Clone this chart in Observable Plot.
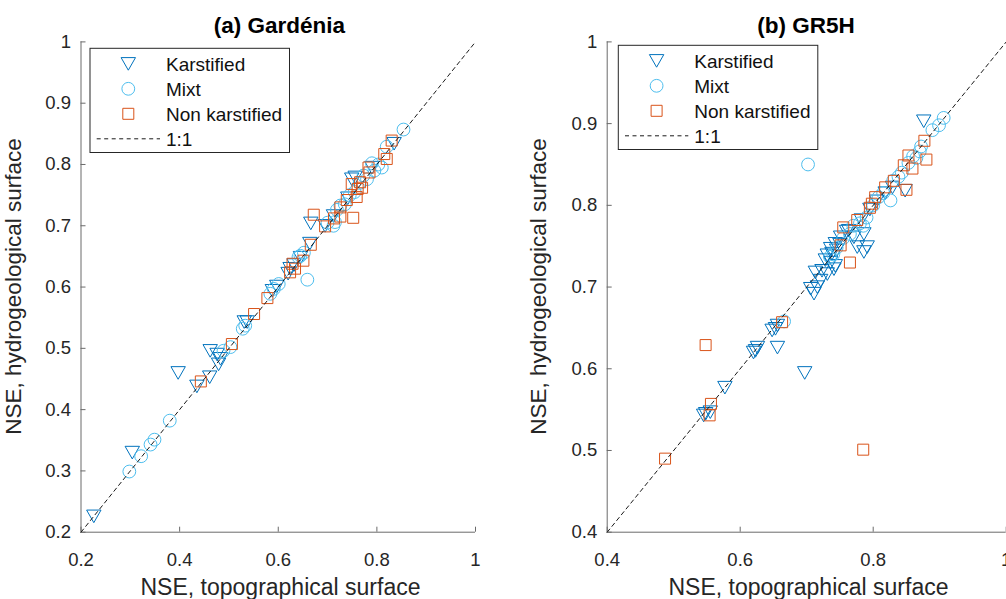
<!DOCTYPE html>
<html><head><meta charset="utf-8">
<script src="https://cdn.jsdelivr.net/npm/d3@7"></script>
<script src="https://cdn.jsdelivr.net/npm/@observablehq/plot@0.6"></script>
<style>
html,body{margin:0;padding:0;background:#fff;overflow:hidden}
#wrap{position:relative;width:1006px;height:599px;font-family:"Liberation Sans",Arial,sans-serif}
.panel{position:absolute;top:0}
#ov{position:absolute;left:0;top:0;pointer-events:none}
</style></head><body><div id="wrap"></div>
<script>
// ---------- data ----------
const categories = ["Karstified", "Mixt", "Non karstified"];
const titles = ["(a) Gardénia", "(b) GR5H"];
const xLabel = "NSE, topographical surface";
const yLabel = "NSE, hydrogeological surface";
const oneToOneLabel = "1:1";

// Gardénia: [NSE topographical, NSE hydrogeological]
const gardeniaKarstified = [
  [0.226,0.226],[0.304,0.330],[0.397,0.460],[0.435,0.438],[0.461,0.453],[0.462,0.496],
  [0.476,0.490],[0.483,0.483],[0.479,0.474],[0.531,0.543],[0.537,0.543],[0.588,0.594],
  [0.597,0.601],[0.620,0.622],[0.624,0.630],[0.632,0.636],[0.645,0.648],[0.664,0.671],
  [0.666,0.704],[0.695,0.700],[0.712,0.716],[0.741,0.745],[0.749,0.776],[0.756,0.779],
  [0.790,0.795],[0.835,0.834]
];
const gardeniaMixt = [
  [0.298,0.299],[0.322,0.324],[0.341,0.343],[0.349,0.351],[0.380,0.382],[0.489,0.496],
  [0.503,0.502],[0.528,0.532],[0.533,0.537],[0.584,0.589],[0.591,0.597],[0.601,0.605],
  [0.641,0.649],[0.645,0.651],[0.652,0.656],[0.659,0.612],[0.700,0.705],[0.712,0.700],
  [0.715,0.706],[0.719,0.726],[0.726,0.733],[0.735,0.735],[0.745,0.750],[0.755,0.755],
  [0.765,0.770],[0.773,0.782],[0.780,0.776],[0.790,0.802],[0.795,0.790],[0.803,0.800],
  [0.810,0.795],[0.820,0.829],[0.854,0.857]
];
const gardeniaNonKarstified = [
  [0.443,0.446],[0.506,0.507],[0.551,0.556],[0.578,0.582],[0.624,0.624],[0.634,0.630],
  [0.629,0.638],[0.651,0.643],[0.666,0.669],[0.672,0.718],[0.695,0.699],[0.713,0.712],
  [0.726,0.730],[0.726,0.715],[0.752,0.713],[0.739,0.742],[0.759,0.747],[0.749,0.768],
  [0.766,0.771],[0.761,0.760],[0.770,0.762],[0.783,0.795],[0.785,0.787],[0.815,0.817],
  [0.820,0.809],[0.830,0.839]
];

// GR5H
const gr5hKarstified = [
  [0.876,0.903],[0.848,0.818],[0.829,0.822],[0.818,0.815],[0.805,0.805],[0.795,0.795],
  [0.782,0.782],[0.786,0.765],[0.763,0.769],[0.771,0.761],[0.751,0.761],[0.743,0.753],
  [0.736,0.747],[0.776,0.749],[0.791,0.749],[0.786,0.743],[0.760,0.768],[0.750,0.752],
  [0.745,0.745],[0.738,0.741],[0.731,0.739],[0.728,0.733],[0.736,0.730],[0.743,0.726],
  [0.741,0.722],[0.731,0.716],[0.723,0.720],[0.713,0.718],[0.721,0.708],[0.716,0.700],
  [0.706,0.698],[0.711,0.692],[0.648,0.647],[0.653,0.649],[0.656,0.653],[0.656,0.626],
  [0.620,0.620],[0.623,0.622],[0.626,0.626],[0.697,0.595],[0.577,0.577],[0.545,0.543],
  [0.548,0.545],[0.555,0.547]
];
const gr5hMixt = [
  [0.906,0.907],[0.899,0.898],[0.889,0.892],[0.702,0.850],[0.872,0.872],[0.870,0.866],
  [0.865,0.858],[0.860,0.860],[0.853,0.852],[0.843,0.840],[0.838,0.835],[0.830,0.830],
  [0.826,0.806],[0.815,0.815],[0.808,0.810],[0.800,0.800],[0.790,0.785],[0.785,0.775],
  [0.780,0.778],[0.770,0.775],[0.765,0.765],[0.755,0.760],[0.745,0.748],[0.740,0.740],
  [0.735,0.737],[0.666,0.658]
];
const gr5hNonKarstified = [
  [0.877,0.879],[0.880,0.856],[0.853,0.861],[0.846,0.849],[0.859,0.845],[0.831,0.830],
  [0.818,0.822],[0.850,0.819],[0.803,0.810],[0.798,0.802],[0.795,0.797],[0.776,0.782],
  [0.755,0.773],[0.751,0.751],[0.765,0.730],[0.663,0.657],[0.548,0.629],[0.556,0.557],
  [0.554,0.543],[0.487,0.490],[0.785,0.501]
];

const gardeniaXTicks = [0.2, 0.4, 0.6, 0.8, 1];
const gardeniaYTicks = [0.2, 0.3, 0.4, 0.5, 0.6, 0.7, 0.8, 0.9, 1];
const gr5hXTicks = [0.4, 0.6, 0.8, 1];
const gr5hYTicks = [0.4, 0.5, 0.6, 0.7, 0.8, 0.9, 1];
const gardeniaDomain = [0.2, 1];
const gr5hDomain = [0.4, 1];

// ---------- styles ----------
const colors = {"Karstified": "#0072BD", "Mixt": "#4DBEEE", "Non karstified": "#D95319"};
const symbols = {
  "Karstified": {draw(c) { c.moveTo(-7.2, -6.2); c.lineTo(7.2, -6.2); c.lineTo(0, 6.4); c.closePath(); }},
  "Mixt": {draw(c) { c.moveTo(6.4, 0); c.arc(0, 0, 6.4, 0, 2 * Math.PI); c.closePath(); }},
  "Non karstified": {draw(c) { c.rect(-5.5, -5.5, 11, 11); }}
};
const FONT = '"Liberation Sans", Arial, Helvetica, sans-serif';
const AXIS = "#6a6a6a";
const TEXT = "#262626";

function makePanel({series, domain, xticks, yticks, marginLeft, marginRight}) {
  return Plot.plot({
    width: 503, height: 599,
    marginLeft, marginRight, marginTop: 41.4, marginBottom: 67.3,
    x: {domain}, y: {domain},
    style: {fontFamily: FONT, fontSize: "18.5px", color: TEXT, background: "transparent", overflow: "hidden"},
    marks: [
      Plot.ruleX([domain[0]], {stroke: AXIS, strokeWidth: 1}),
      Plot.ruleY([domain[0]], {stroke: AXIS, strokeWidth: 1}),
      Plot.axisX({ticks: xticks, tickFormat: d => String(d), tickSize: -5, tickPadding: 26, stroke: AXIS, fill: TEXT, label: null}),
      Plot.axisY({ticks: yticks, tickFormat: d => String(d), tickSize: -5, tickPadding: 15, stroke: AXIS, fill: TEXT, label: null}),
      ...series.map(([cat, arr]) => Plot.dot(arr, {
        x: d => d[0], y: d => d[1], symbol: symbols[cat], r: 1,
        fill: "none", stroke: colors[cat], strokeWidth: 1
      })),
      Plot.line(domain, {x: d => d, y: d => d, stroke: "#1a1a1a", strokeWidth: 1, strokeDasharray: "4,3.5"})
    ]
  });
}

const wrap = document.getElementById("wrap");
const left = makePanel({
  series: [["Karstified", gardeniaKarstified], ["Mixt", gardeniaMixt], ["Non karstified", gardeniaNonKarstified]],
  domain: gardeniaDomain, xticks: gardeniaXTicks, yticks: gardeniaYTicks, marginLeft: 80.5, marginRight: 28
});
left.classList.add("panel"); left.style.left = "0px";
wrap.appendChild(left);
const right = makePanel({
  series: [["Karstified", gr5hKarstified], ["Mixt", gr5hMixt], ["Non karstified", gr5hNonKarstified]],
  domain: gr5hDomain, xticks: gr5hXTicks, yticks: gr5hYTicks, marginLeft: 103.7, marginRight: 0.3
});
right.classList.add("panel"); right.style.left = "503px";
wrap.appendChild(right);

// ---------- overlay: titles, axis labels, legends ----------
const NS = "http://www.w3.org/2000/svg";
const ov = document.createElementNS(NS, "svg");
ov.setAttribute("id", "ov"); ov.setAttribute("width", 1006); ov.setAttribute("height", 599);
ov.style.fontFamily = FONT;
wrap.appendChild(ov);
function el(tag, attrs, text) {
  const e = document.createElementNS(NS, tag);
  for (const k in attrs) e.setAttribute(k, attrs[k]);
  if (text != null) e.textContent = text;
  ov.appendChild(e); return e;
}
const panels = [
  {cx: 279.5, xlx: 280.5, ylx: 20.5, legend: [90, 48.3]},
  {cx: 806, xlx: 808.5, ylx: 546, legend: [618.3, 45.3]}
];
panels.forEach((p, i) => {
  el("text", {x: p.cx, y: 33.3, "text-anchor": "middle", "font-size": "22.5px", "font-weight": "bold", fill: "#000"}, titles[i]);
  el("text", {x: p.xlx, y: 595, "text-anchor": "middle", "font-size": "23px", fill: TEXT}, xLabel);
  el("text", {x: 0, y: 0, transform: `translate(${p.ylx},286.5) rotate(-90)`, "text-anchor": "middle", "font-size": "22.5px", fill: TEXT}, yLabel);
  const [lx, ly] = p.legend;
  el("rect", {x: lx, y: ly, width: 199.5, height: 104.2, fill: "#fff", stroke: "#262626", "stroke-width": 1});
  categories.forEach((cat, j) => {
    const cy = ly + 15.5 + 25 * j;
    const path = d3.path(); symbols[cat].draw(path);
    el("path", {d: path.toString(), transform: `translate(${lx + 38.3},${cy})`, fill: "none", stroke: colors[cat], "stroke-width": 1});
    el("text", {x: lx + 76, y: cy + 6.8, "font-size": "19px", fill: "#111"}, cat);
  });
  const cy = ly + 15.5 + 75;
  el("line", {x1: lx + 6.7, x2: lx + 70, y1: cy, y2: cy, stroke: "#1a1a1a", "stroke-width": 1, "stroke-dasharray": "4,3.5"});
  el("text", {x: lx + 76, y: cy + 6.8, "font-size": "19px", fill: "#111"}, oneToOneLabel);
});
</script></body></html>
